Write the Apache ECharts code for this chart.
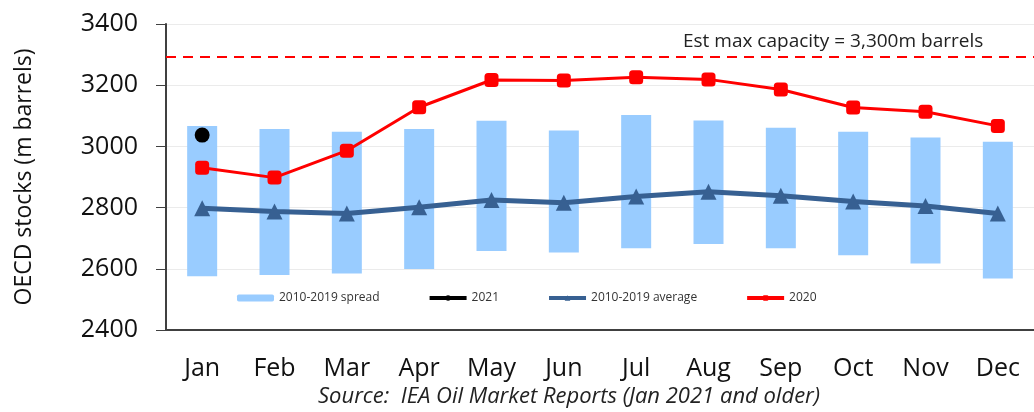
<!DOCTYPE html>
<html>
<head>
<meta charset="utf-8">
<script src="https://cdn.jsdelivr.net/npm/echarts@6/dist/echarts.min.js"></script>
<style>
  html, body { margin: 0; padding: 0; background: #fff; }
  #chart { width: 1034px; height: 412px; }
</style>
</head>
<body>
<div id="chart"></div>
<script>
// data
const months = ["Jan", "Feb", "Mar", "Apr", "May", "Jun", "Jul", "Aug", "Sep", "Oct", "Nov", "Dec"];
const spreadLow = [2576, 2580, 2585, 2599, 2658, 2653, 2667, 2681, 2667, 2644, 2617, 2568];
const spreadHigh = [3067, 3057, 3048, 3057, 3084, 3052, 3103, 3085, 3061, 3048, 3029, 3015];
const avg = [2798, 2787, 2781, 2801, 2825, 2816, 2836, 2852, 2839, 2820, 2805, 2781];
const y2020 = [2930, 2898, 2986, 3128, 3217, 3215, 3226, 3219, 3186, 3127, 3113, 3067];
const y2021 = [3037];
const maxCapacity = 3293;

const font = "Open Sans";
const chart = echarts.init(document.getElementById("chart"));

chart.setOption({
  animation: false,
  textStyle: { fontFamily: font },
  grid: { left: 166, top: 24, width: 881, height: 306 },
  legend: {
    left: 232,
    top: 287,
    itemWidth: 37,
    itemHeight: 7,
    itemGap: 48,
    lineStyle: { width: 4 },
    textStyle: { fontSize: 12, color: "#333" },
    data: ["2010-2019 spread", "2021", "2010-2019 average", "2020"],
  },
  xAxis: {
    type: "category",
    data: months,
    axisLine: { lineStyle: { color: "#404040", width: 2 } },
    axisTick: { length: 7, lineStyle: { color: "#404040" } },
    axisLabel: { fontSize: 25, color: "#111", margin: 26 },
  },
  yAxis: {
    type: "value",
    min: 2400,
    max: 3400,
    interval: 200,
    name: "OECD stocks (m barrels)",
    nameLocation: "middle",
    nameGap: 130,
    nameTextStyle: { fontSize: 23, color: "#111" },
    axisLine: { show: true, lineStyle: { color: "#404040", width: 2 } },
    axisTick: { show: true, length: 10, lineStyle: { color: "#404040" } },
    axisLabel: { fontSize: 25, color: "#111", margin: 28, formatter: (v) => String(v) },
    splitLine: { lineStyle: { color: "#ebebeb" } },
  },
  graphic: [
    {
      type: "text",
      left: 683,
      top: 32,
      style: { text: "Est max capacity = 3,300m barrels", font: "19px " + font, fill: "#222" },
    },
    {
      type: "text",
      left: 318,
      top: 386,
      style: { text: "Source:  IEA Oil Market Reports (Jan 2021 and older)", font: "italic 22px " + font, fill: "#222" },
    },
  ],
  series: [
    {
      name: "base",
      type: "bar",
      stack: "spread",
      barWidth: 30,
      silent: true,
      itemStyle: { color: "transparent" },
      data: spreadLow,
    },
    {
      name: "2010-2019 spread",
      type: "bar",
      stack: "spread",
      barWidth: 30,
      itemStyle: { color: "#99ccff" },
      data: spreadHigh.map((v, i) => v - spreadLow[i]),
    },
    {
      name: "2010-2019 average",
      type: "line",
      symbol: "triangle",
      symbolSize: 16,
      lineStyle: { color: "#376092", width: 5 },
      itemStyle: { color: "#376092" },
      data: avg,
    },
    {
      name: "2020",
      type: "line",
      symbol: "roundRect",
      symbolSize: 14,
      lineStyle: { color: "#ff0000", width: 3 },
      itemStyle: { color: "#ff0000" },
      data: y2020,
      markLine: {
        silent: true,
        symbol: "none",
        label: { show: false },
        lineStyle: { color: "#ff0000", type: [10, 7], width: 2 },
        data: [{ yAxis: maxCapacity }],
      },
    },
    {
      name: "2021",
      type: "line",
      symbol: "circle",
      symbolSize: 15,
      lineStyle: { color: "#000", width: 3 },
      itemStyle: { color: "#000" },
      data: y2021,
    },
  ],
});
</script>
</body>
</html>
